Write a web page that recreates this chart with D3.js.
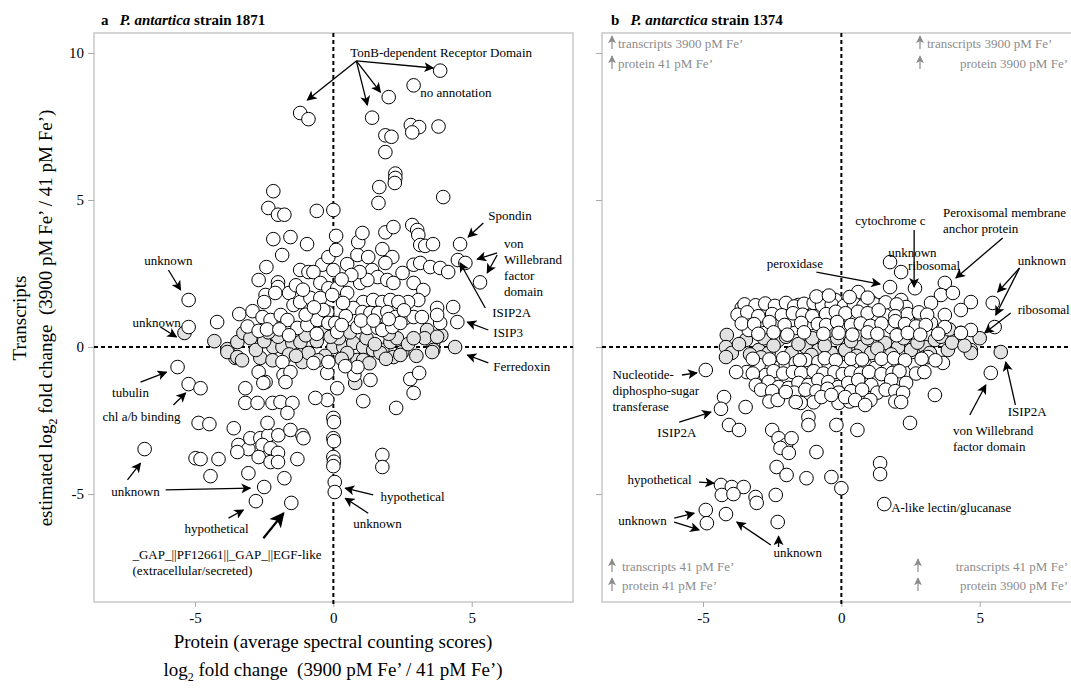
<!DOCTYPE html>
<html><head>
<meta charset="utf-8">
<script src="https://d3js.org/d3.v7.min.js"></script>
<style>
  body { margin: 0; background: #fff; }
  svg, svg text { font-family: "Liberation Serif", "Times New Roman", Times, serif; }
  .frame { fill: none; stroke: #c8c8c8; stroke-width: 1.5; }
  .axis .domain { display: none; }
  .axis line { stroke: #aaa; }
  .axis text { font-size: 15px; fill: #000; font-family: "Liberation Serif", serif; }
  .zero { stroke: #000; stroke-width: 2; stroke-dasharray: 4,3; }
  .note { font-size: 13px; fill: #000; }
  .quad { font-size: 13px; fill: #8c8c8c; }
</style>
</head>
<body>
<svg id="chart" width="1071" height="689" font-family="Liberation Serif, serif"></svg>
<script>
// ---- data (log2 fold change: protein, transcripts) ----
const ticksX = [-5, 0, 5];
const ticksY = [-5, 0, 5, 10];

// panel a, strain 1871 - open (significant) points
const aOpen = [
  [3.86,9.4],[2.9,8.9],[2.0,8.5],[-1.2,7.96],[-0.9,7.75],[1.4,7.8],
  [2.8,7.55],[3.1,7.48],[2.85,7.3],[3.8,7.5],[1.88,7.2],[2.1,7.15],[1.88,6.63],
  [2.24,5.9],[2.24,5.75],[2.22,5.58],[1.66,5.44],[1.63,4.9],[3.97,5.1],
  [-2.17,5.3],[-2.35,4.73],[-2.0,4.5],[-1.77,4.5],[-0.6,4.63],[0,4.66],
  [0.1,3.78],[-2.17,3.67],[-1.55,3.74],[-0.95,3.5],[-1.85,3.13],[-2.42,2.72],[-2.7,2.28],
  [-2.0,2.2],[-2.0,2.04],[-2.45,1.77],[-2.1,1.84],[-2.5,1.53],[-1.6,1.84],
  [-1.2,2.62],[-0.9,2.55],[-0.4,2.8],[-0.18,3.06],[0.1,3.3],[0,2.62],[0.5,2.82],[0.87,3.13],
  [1.26,3.06],[0.9,3.57],[1.05,3.88],[1.77,3.33],[1.88,3.9],[2.17,4.08],[2.85,4.15],[3.03,3.98],
  [3.07,3.81],[3.14,3.47],[3.32,3.44],[3.6,3.5],[4.58,3.5],[4.5,2.96],[4.77,2.86],[5.3,2.2],
  [2.9,2.8],[3.14,2.86],[3.5,2.72],[3.86,2.69],[4.15,2.55],[2.13,3.06],[1.88,2.86],[1.4,2.62],
  [1.6,2.38],[1.95,2.28],[2.17,2.18],[2.5,2.52],
  [-0.72,2.55],[-0.47,2.18],[-0.18,2.0],[0.14,2.0],[0.5,1.84],[0.97,2.18],[1.23,2.28],[2.9,2.18],
  [3.25,1.94],[3.07,1.6],[2.7,1.53],[1.08,1.53],[1.44,1.6],[1.77,1.53],[2.06,1.6],[2.35,1.53],
  [0.72,1.33],[1.05,1.19],[1.34,1.16],[1.62,1.16],[1.95,1.19],[2.24,1.02],[2.6,0.99],[2.9,1.02],[3.2,1.02],
  [0.87,0.68],[1.23,0.65],[1.6,0.65],[1.77,0.58],[2.13,0.68],[2.42,0.82],
  [3.75,1.33],[4.33,1.36],[3.86,0.82],[4.48,0.85],[3.75,1.09],
  [-3.4,1.12],[-2.92,1.22],[-4.2,0.85],[-2.56,1.02],[-2.27,0.92],[-1.9,1.09],[-1.66,0.92],
  [-1.3,0.65],[-0.94,0.75],[-0.58,0.92],[-0.22,1.19],[-1.44,1.43],[-1.2,1.53],[-0.83,1.67],
  [-0.47,1.67],[-0.04,1.77],[-0.18,0.82],[0.07,0.82],[0.14,0.51],[-0.36,1.26],
  [-1.0,1.1],[-0.7,1.35],[0.35,1.5],[0.45,1.05],[0.3,0.75],[1.0,0.9],[1.45,0.9],[2.0,0.95],
  [2.55,1.25],[-3.1,0.7],[-2.7,0.55],[-2.4,0.6],[-1.95,0.6],[-1.6,0.4],[-0.6,0.45],[0.95,2.55],
  [0.65,2.45],[-1.35,2.1],[-1.1,1.95],[0.3,2.3],
  [-5.23,1.6],[-5.23,0.68],
  [-5.63,-0.68],[-5.23,-1.26],[-4.8,-1.4],[-4.87,-2.58],[-4.48,-2.62],[-3.6,-2.76],[-6.82,-3.47],
  [-4.98,-3.78],[-4.8,-3.81],[-4.15,-3.81],[-4.44,-4.39],[-3.07,-4.29],
  [-3.43,-3.33],[-3.07,-3.47],[-3.47,-3.57],[-3.0,-3.1],[-2.64,-3.1],[-2.35,-3.0],[-1.99,-3.0],
  [-2.38,-2.58],[-1.55,-2.82],[-1.12,-3.0],[-1.08,-3.1],
  [-2.56,-3.33],[-2.27,-3.44],[-2.0,-3.6],[-2.7,-3.74],[-2.27,-3.91],[-2.0,-3.91],[-1.3,-3.81],
  [-1.77,-4.46],[-2.5,-4.76],[-2.8,-5.24],[-1.52,-5.3],
  [0,-2.41],[0.02,-2.55],[0,-3.1],[0.02,-3.2],[0,-3.74],[0.02,-3.9],[0,-4.05],[0.05,-4.59],[0.05,-4.93],
  [1.77,-3.67],[1.77,-4.08],[1.34,-1.12],[1.08,-1.84],[2.78,-1.09],[3.1,-0.88],[2.9,-1.56],[2.27,-2.07],
  [0.76,-0.95],[0.87,-0.68],[0.43,-0.65],[0.14,-1.4],[-0.22,-1.8],[-0.65,-1.73],[-0.22,-0.88],
  [-3.18,-1.4],[-3.18,-1.9],[-2.74,-1.9],[-2.2,-1.9],[-1.91,-1.87],[-1.48,-1.9],[-1.66,-2.24],
  [-2.7,-0.85],[-2.45,-1.19],[-2.53,-1.22],[-1.84,-0.51],[-1.8,-0.95],[-1.55,-0.85],[-1.73,-1.19],
  [-0.72,-0.54],[-0.18,-0.51]
];
// panel a - grey (transcripts not significant)
const aGrey = [
  [-5.38,0.48],[-3.83,-0.07],[-3.47,0.17],[-3.25,0.48],[-3.54,-0.37],[-2.17,0],[-1.84,0],[-1.48,0.14],
  [-1.19,0.17],[-0.83,0.85],[-0.36,0.48],[0,0],[0.36,0],[0.72,0.14],[1.08,0],[1.44,-0.1],[1.77,-0.1],
  [2.06,0.17],[2.49,-0.17],[3.39,0.58],[3.61,0.14],[3.61,-0.1],[4.4,0],
  [-3.83,-0.17],[-3.47,-0.34],[-2.64,-0.37],[-1.12,-0.51],[0.87,-0.44],[1.08,-0.44],[0.79,-1.22],
  [1.7,-0.2],[2.17,-0.34],[2.42,-0.27],[3.57,-0.17],
  [-3.0,0.3],[-2.8,-0.1],[-2.5,0.2],[-2.0,0.35],[-1.6,-0.25],[-0.9,-0.2],[-0.6,0.2],[-0.3,-0.3],
  [0.2,0.3],[0.5,-0.2],[1.2,0.3],[1.5,0.1],[2.3,0.3],[2.7,0.1],[3.0,-0.3],[3.3,0.3],[3.9,0.4],
  [-1.0,0.4],[0.6,0.5],[1.9,-0.4],
  [-3.3,-0.45],[-2.2,-0.45],[-1.35,-0.3],[-0.55,-0.45],[0.3,-0.4],[1.3,-0.55],[2.9,0.3],[3.75,0.35],
  [-2.35,0.5],[-4.3,0.2],[2.0,0.45],[-0.1,0.35]
];

// panel b, strain 1374
const bOpen = [
  [1.76,2.89],[2.16,2.55],[1.76,2.04],[2.66,2.0],[3.74,2.18],[3.6,1.77],[4.03,1.84],[3.24,1.5],
  [3.74,1.09],[4.68,1.53],[4.32,1.26],[5.47,1.5],[5.54,0.68],[4.68,0.58],[4.32,0.48],[0.61,1.87],
  [1.08,1.53],[1.44,1.43],[2.16,1.6],[2.34,1.36],[2.66,1.02],[2.05,1.19],[1.8,1.36],[-3.6,1.33],
  [-3.27,0.92],[-2.99,1.19],[-2.63,1.16],[-2.27,1.26],[-1.91,1.19],[-1.55,1.43],[-1.19,1.26],
  [-0.94,1.26],[-0.58,1.67],[-0.22,1.6],[0.25,0.99],[0.5,0.92],[0.86,1.02],[1.22,1.02],[1.58,1.09],
  [-3.35,0.58],[-2.73,0.68],[-2.27,0.82],[-1.65,0.65],[-1.08,0.82],[-0.36,0.92],[0,0.68],[-1.8,0.92],
  [-2.88,0.92],[1.8,0.68],[2.16,0.82],[2.52,0.82],[2.88,0.92],[3.24,0.82],[3.74,0.68],
  [-3.5,1.45],[-3.1,1.42],[-2.75,1.48],[-2.4,1.4],[-2.0,1.5],[-1.7,1.38],[-1.35,1.47],[-1.0,1.5],
  [-0.7,1.42],[-0.35,1.45],[0.1,1.4],[0.45,1.48],[0.8,1.4],[1.2,1.45],[1.6,1.52],[2.0,1.45],
  [-3.75,1.1],[-3.4,1.18],[-3.0,1.05],[-2.5,1.12],[-2.15,1.08],[-1.75,1.15],[-1.4,1.1],[-1.05,1.05],
  [-0.55,1.12],[-0.2,1.2],[0.15,1.15],[0.6,1.2],[0.95,1.15],[1.35,1.25],[1.95,1.05],[2.4,1.12],
  [2.8,1.18],[3.1,1.1],
  [-3.6,0.8],[-3.15,0.78],[-2.6,0.85],[-2.05,0.75],[-1.45,0.82],[-0.85,0.78],[-0.55,0.75],[-0.15,0.85],
  [0.35,0.75],[0.7,0.8],[1.05,0.72],[1.45,0.8],[1.95,0.88],[2.3,0.78],[2.7,0.7],[3.05,0.75],
  [-3.0,0.45],[-2.45,0.5],[-1.95,0.42],[-1.35,0.5],[-0.65,0.45],[-0.1,0.48],[0.4,0.42],[0.95,0.5],
  [1.3,0.45],[2.0,0.4],[2.4,0.48],[2.85,0.42],[3.5,0.45],
  [-0.9,1.72],[-0.45,1.75],[0.3,1.7],[0.95,1.68],
  [-3.42,-0.85],[-2.99,-0.61],[-2.73,-0.95],[-2.37,-0.71],[-2.01,-0.61],[-1.65,-0.54],[-1.29,-0.44],
  [-0.83,-0.51],[-0.47,-0.54],[0.14,-0.68],[0.5,-0.61],[0.86,-0.61],[1.22,-0.71],[1.69,-0.68],
  [2.05,-0.54],[2.41,-0.85],[2.66,-0.61],[3.13,-0.34],[3.67,-0.54],
  [-3.2,-0.4],[-2.6,-0.42],[-2.1,-0.38],[-1.5,-0.45],[-0.6,-0.38],[-0.2,-0.45],[0.35,-0.4],[0.75,-0.42],
  [1.45,-0.4],[1.9,-0.38],[2.3,-0.45],[2.9,-0.4],[3.4,-0.45],
  [-3.8,-0.85],[-3.2,-0.9],[-2.45,-0.82],[-2.1,-0.9],[-1.75,-0.85],[-1.45,-0.88],[-1.0,-0.82],[-0.65,-0.9],
  [-0.25,-0.85],[0.05,-0.92],[0.35,-0.86],[0.7,-0.9],[1.0,-0.85],[1.45,-0.92],[1.85,-0.88],[2.1,-0.82],
  [2.7,-0.9],[3.0,-0.85],
  [-3.09,-1.29],[-2.63,-1.19],[-2.27,-1.36],[-1.91,-1.39],[-1.55,-1.22],[-1.19,-1.29],[-0.83,-1.12],
  [-0.47,-1.19],[-0.11,-1.36],[0.25,-1.22],[0.61,-1.12],[1.08,-1.29],[1.8,-1.12],[2.34,-1.22],
  [-2.9,-1.45],[-2.5,-1.5],[-1.7,-1.55],[-1.3,-1.45],[-0.9,-1.5],[-0.5,-1.42],[-0.1,-1.55],[0.35,-1.5],
  [0.75,-1.45],[1.3,-1.55],[1.6,-1.45],[1.95,-1.5],
  [-2.6,-1.85],[-2.3,-1.8],[-1.0,-1.88],[-0.1,-1.9],[0.3,-1.85],[1.05,-1.8],[1.95,-1.85],
  [2.23,-1.56],[2.16,-1.87],[-2.01,-1.53],[-0.72,-1.7],[-0.36,-1.63],[0.14,-1.7],[0.5,-1.8],[0.86,-1.97],
  [-4.9,-0.78],[-4.24,-1.7],[-4.35,-2.1],[-3.46,-2.04],[-4.06,-2.65],[-3.7,-2.82],[-2.5,-2.82],
  [-2.27,-3.1],[-2.0,-3.33],[-1.8,-3.1],[-2.2,-3.43],[-1.9,-3.6],[-1.19,-2.38],[-1.19,-2.65],
  [-0.9,-3.57],[-0.18,-2.65],[0.58,-2.82],[2.48,-2.58],[3.38,-1.63],[5.4,-0.88],[1.4,-3.95],
  [1.4,-4.32],[-2.34,-4.08],[-1.98,-4.35],[-1.26,-4.46],[-0.36,-4.42],[0.0,-4.8],[1.55,-5.34],
  [-4.35,-4.69],[-3.96,-4.76],[-3.53,-4.76],[-4.32,-5.03],[-3.9,-5.0],[-3.1,-5.1],[-3.06,-5.3],
  [-2.37,-5.03],[-4.9,-5.54],[-4.86,-5.99],[-4.17,-5.68],[-2.3,-5.95],[-1.47,-1.9],[-1.65,-1.87]
];
const bGrey = [
  [-4.14,0.41],[-4.17,0],[-3.96,-0.2],[-3.45,0.24],[-2.99,-0.1],[-2.63,-0.2],[-2.27,0.24],[-1.8,-0.2],
  [-1.29,0],[-0.83,-0.1],[-0.36,-0.2],[0.14,-0.1],[0.72,0],[1.08,-0.2],[1.58,0.14],[2.05,0],
  [2.52,-0.1],[3.02,0],[3.38,0.24],[3.85,-0.1],[4.32,0.48],[4.68,-0.1],[5.76,-0.17],
  [-4.17,-0.34],[-1.08,-0.27],[3.02,-0.34],[4.68,-0.2],
  [-3.7,0.1],[-3.3,-0.25],[-2.8,0.3],[-2.45,0.05],[-2.0,0.35],[-1.55,0.1],[-1.05,0.3],[-0.6,0.05],
  [-0.15,0.3],[0.35,0.2],[0.55,-0.3],[0.95,0.3],[1.3,-0.05],[1.8,-0.25],[2.25,0.3],[2.75,0.15],
  [3.2,-0.2],[3.6,0.35],[4.0,0.15],[4.45,0.05],[5.0,0.3],[2.6,0.5],[1.2,0.5],[3.9,0.6],[-0.5,0.55],
  [-2.9,-0.35]
];

// annotations, in data units: text lines at [x, y], arrows [x1, y1, x2, y2]
const aNotes = [
  {t:["TonB-dependent Receptor Domain"], x:0.61, y:10.03},
  {t:["no annotation"], x:3.14, y:8.67},
  {t:["Spondin"], x:5.6, y:4.46},
  {t:["von","Willebrand","factor","domain"], x:6.17, y:3.54, lh:16},
  {t:["ISIP2A"], x:5.74, y:1.16},
  {t:["ISIP3"], x:5.78, y:0.48},
  {t:["Ferredoxin"], x:5.78, y:-0.65},
  {t:["unknown"], x:-5.96, y:2.93, mid:true},
  {t:["unknown"], x:-7.26, y:0.82},
  {t:["tubulin"], x:-7.33, y:-1.53, mid:true},
  {t:["chl a/b binding"], x:-6.93, y:-2.35, mid:true},
  {t:["unknown"], x:-7.15, y:-4.9, mid:true},
  {t:["hypothetical"], x:-4.22, y:-6.16, mid:true},
  {t:["_GAP_||PF12661||_GAP_||EGF-like","(extracellular/secreted)"], x:-7.26, y:-7.04, lh:16},
  {t:["hypothetical"], x:1.7, y:-5.07},
  {t:["unknown"], x:0.72, y:-5.99}
];
const aArrows = [
  [0.83,9.73,-0.94,8.4],[0.83,9.73,1.23,8.23],[0.83,9.73,1.7,8.67],[0.83,9.73,3.61,9.49],
  [5.42,4.22,4.87,3.74],[5.92,3.2,5.2,2.99],[5.92,3.13,5.56,2.52],[5.49,1.33,4.58,2.86],
  [5.6,0.58,4.84,0.85],[5.6,-0.54,4.84,-0.27],[-5.96,2.62,-5.52,1.94],[-6.25,0.68,-5.67,0.34],
  [-6.97,-1.19,-6.03,-0.85],[-5.78,-1.97,-5.34,-1.56],[-7.44,-4.52,-6.97,-3.95],[-6.06,-4.86,-3.0,-4.8],
  [-3.79,-5.82,-3.25,-5.54],[1.44,-5.03,0.43,-4.8],[1.26,-5.65,0.43,-5.14]
];
const aThick = [[-2.53,-6.5,-1.8,-5.65]];

const bNotes = [
  {t:["peroxidase"], x:-2.7, y:2.86},
  {t:["cytochrome c"], x:0.5, y:4.29},
  {t:["unknown"], x:1.69, y:3.23},
  {t:["ribosomal"], x:2.41, y:2.79},
  {t:["Peroxisomal membrane","anchor protein"], x:3.67, y:4.59, lh:16},
  {t:["unknown"], x:6.37, y:2.93},
  {t:["ribosomal"], x:6.37, y:1.29},
  {t:["Nucleotide-","diphospho-sugar","transferase"], x:-8.27, y:-0.92, lh:16},
  {t:["ISIP2A"], x:-6.65, y:-2.89},
  {t:["hypothetical"], x:-7.73, y:-4.49},
  {t:["unknown"], x:-8.06, y:-5.88},
  {t:["unknown"], x:-2.45, y:-6.97},
  {t:["ISIP2A"], x:6.01, y:-2.18},
  {t:["von Willebrand","factor domain"], x:4.03, y:-2.82, lh:16},
  {t:["A-like lectin/glucanase"], x:1.8, y:-5.44}
];
const bArrows = [
  [-0.9,2.55,1.4,2.14],[2.63,3.98,2.63,2.04],[5.83,3.71,4.14,2.35],[6.44,2.69,5.65,1.87],
  [6.44,2.69,5.58,1.09],[6.12,1.16,5.18,0.48],[-5.76,-0.95,-5.22,-0.88],[-5.86,-2.55,-4.71,-2.21],
  [-5.14,-4.59,-4.6,-4.63],[-6.04,-5.82,-5.32,-5.65],[-6.04,-5.95,-5.14,-6.22],[-2.55,-6.73,-3.78,-5.95],
  [-2.27,-6.8,-2.27,-6.43],[6.29,-1.97,5.94,-0.51],[4.64,-2.31,5.22,-1.29]
];

// ---- layout ----
const svg = d3.select('#chart');
const plotTop = 33, plotBottom = 602;
const xDomain = [-8.65, 8.66];
const yScale = d3.scaleLinear().domain([-8.67, 10.68]).range([plotBottom, plotTop]);

const defs = svg.append('defs');
function marker(id, size, color) {
  defs.append('marker')
      .attr('id', id)
      .attr('viewBox', '0 0 10 10')
      .attr('refX', 9).attr('refY', 5)
      .attr('markerWidth', size).attr('markerHeight', size)
      .attr('markerUnits', 'userSpaceOnUse')
      .attr('orient', 'auto')
    .append('path')
      .attr('d', 'M0,0 L10,5 L0,10 L2.5,5 z')
      .attr('fill', color);
}
marker('head', 10, '#000');
marker('headBig', 15, '#000');
marker('headGrey', 8, '#8c8c8c');

function drawPanel(left, right, open, grey, notes, arrows, thick, showLabels) {
  const x = d3.scaleLinear().domain(xDomain).range([left, right]);
  const g = svg.append('g');

  g.append('rect').attr('class', 'frame')
    .attr('x', left).attr('y', plotTop)
    .attr('width', right - left).attr('height', plotBottom - plotTop);

  const xAxis = d3.axisBottom(x).tickValues(ticksX).tickSize(5).tickPadding(5).tickFormat(d => String(d));
  g.append('g').attr('class', 'axis')
    .attr('font-family', null)
    .attr('transform', `translate(0,${plotBottom})`)
    .call(xAxis);

  const yAxis = d3.axisLeft(yScale).tickValues(ticksY).tickSize(6).tickPadding(4)
                  .tickFormat(d => showLabels ? String(d) : '');
  g.append('g').attr('class', 'axis')
    .attr('transform', `translate(${left},0)`)
    .call(yAxis);

  // zero lines
  g.append('line').attr('class', 'zero')
    .attr('x1', left).attr('x2', right)
    .attr('y1', yScale(0)).attr('y2', yScale(0));
  g.append('line').attr('class', 'zero')
    .attr('x1', x(0)).attr('x2', x(0))
    .attr('y1', plotTop).attr('y2', plotBottom + 5);

  g.selectAll('circle.grey').data(grey).join('circle')
    .attr('class', 'grey')
    .attr('cx', d => x(d[0])).attr('cy', d => yScale(d[1]))
    .attr('r', 6.8)
    .attr('fill', '#e2e2e2').attr('stroke', '#000').attr('stroke-width', 1);

  g.selectAll('circle.open').data(open).join('circle')
    .attr('class', 'open')
    .attr('cx', d => x(d[0])).attr('cy', d => yScale(d[1]))
    .attr('r', 6.8)
    .attr('fill', '#fff').attr('stroke', '#000').attr('stroke-width', 1);

  notes.forEach(n => {
    const t = g.append('text').attr('class', 'note')
      .attr('text-anchor', n.mid ? 'middle' : 'start');
    n.t.forEach((s, i) => {
      t.append('tspan')
        .attr('x', x(n.x))
        .attr('y', yScale(n.y) + i * (n.lh || 16))
        .attr('dy', '0.35em')
        .text(s);
    });
  });

  g.selectAll('line.arrow').data(arrows).join('line')
    .attr('class', 'arrow')
    .attr('x1', d => x(d[0])).attr('y1', d => yScale(d[1]))
    .attr('x2', d => x(d[2])).attr('y2', d => yScale(d[3]))
    .attr('stroke', '#000').attr('stroke-width', 1.3)
    .attr('marker-end', 'url(#head)');

  g.selectAll('line.thick').data(thick).join('line')
    .attr('class', 'thick')
    .attr('x1', d => x(d[0])).attr('y1', d => yScale(d[1]))
    .attr('x2', d => x(d[2])).attr('y2', d => yScale(d[3]))
    .attr('stroke', '#000').attr('stroke-width', 2.2)
    .attr('marker-end', 'url(#headBig)');
  return x;
}

drawPanel(94, 573, aOpen, aGrey, aNotes, aArrows, aThick, true);
drawPanel(602, 1081, bOpen, bGrey, bNotes, bArrows, [], false);

// quadrant legend in panel b
function quadLabel(ax, tx, y, label, anchor) {
  svg.append('line')
    .attr('x1', ax).attr('x2', ax).attr('y1', y + 6).attr('y2', y - 7)
    .attr('stroke', '#8c8c8c').attr('stroke-width', 1.2)
    .attr('marker-end', 'url(#headGrey)');
  svg.append('text').attr('class', 'quad')
    .attr('x', tx).attr('y', y).attr('dy', '0.35em')
    .attr('text-anchor', anchor)
    .text(label);
}
quadLabel(612, 618, 43, 'transcripts 3900 pM Fe\u2019', 'start');
quadLabel(612, 618, 63, 'protein 41 pM Fe\u2019', 'start');
quadLabel(920, 927, 43, 'transcripts 3900 pM Fe\u2019', 'start');
quadLabel(920, 1068, 63, 'protein 3900 pM Fe\u2019', 'end');
quadLabel(612, 622, 566, 'transcripts 41 pM Fe\u2019', 'start');
quadLabel(612, 622, 585, 'protein 41 pM Fe\u2019', 'start');
quadLabel(918, 1068, 566, 'transcripts 41 pM Fe\u2019', 'end');
quadLabel(918, 1068, 585, 'protein 3900 pM Fe\u2019', 'end');

// panel titles
function title(x0, letter, species, strain) {
  const t = svg.append('text').attr('x', x0).attr('y', 25)
    .attr('font-size', 15).attr('font-weight', 'bold');
  t.append('tspan').text(letter + '\u2002 ');
  t.append('tspan').attr('font-style', 'italic').text(species);
  t.append('tspan').text(' ' + strain);
}
title(101, 'a', 'P. antartica', 'strain 1871');
title(611, 'b', 'P. antarctica', 'strain 1374');

// axis titles
function log2Line(sel, before, after) {
  sel.append('tspan').text(before + 'log');
  sel.append('tspan').attr('font-size', 12).attr('dy', 5).text('2');
  sel.append('tspan').attr('dy', -5).text(after);
}
svg.append('text').attr('x', 333).attr('y', 648).attr('text-anchor', 'middle')
  .attr('font-size', 19).text('Protein (average spectral counting scores)');
log2Line(svg.append('text').attr('x', 333).attr('y', 676).attr('text-anchor', 'middle')
  .attr('font-size', 19), '', ' fold change \u00a0(3900 pM Fe\u2019 / 41 pM Fe\u2019)');

const yt = svg.append('g').attr('transform', 'translate(0,318) rotate(-90)');
yt.append('text').attr('x', 0).attr('y', 26).attr('text-anchor', 'middle')
  .attr('font-size', 19).text('Transcripts');
log2Line(yt.append('text').attr('x', 0).attr('y', 52).attr('text-anchor', 'middle')
  .attr('font-size', 19), 'estimated ', ' fold change \u00a0(3900 pM Fe\u2019 / 41 pM Fe\u2019)');
</script>
</body>
</html>
